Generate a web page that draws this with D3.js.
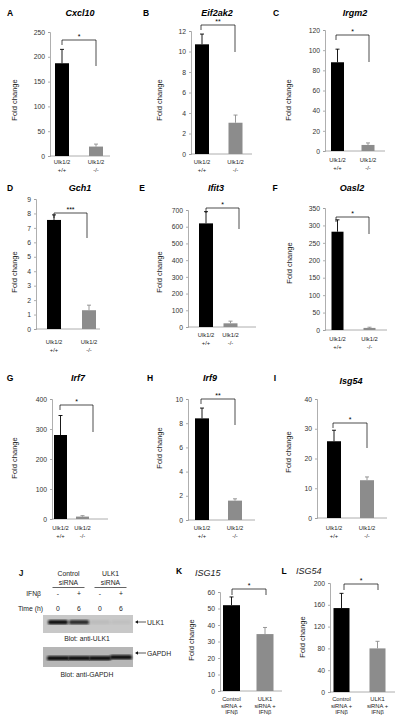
<!DOCTYPE html>
<html><head><meta charset="utf-8">
<script src="https://cdn.jsdelivr.net/npm/d3@7"></script>
<style>body{margin:0;background:#fff}svg{display:block;font-family:"Liberation Sans",Arial,sans-serif}</style>
</head><body><svg id="c" width="400" height="723"></svg>
<script>
// ---- data ----
const panelLetters = ["A","B","C","D","E","F","G","H","I","K","L"];
const genes = ["Cxcl10","Eif2ak2","Irgm2","Gch1","Ifit3","Oasl2","Irf7","Irf9","Isg54","ISG15","ISG54"];
const yMax  = [250, 12, 120, 9, 700, 350, 400, 10, 40, 60, 200];
const yStep = [50, 2, 20, 1, 100, 50, 100, 2, 10, 10, 40];
const ctrlMean = [187, 10.7, 88, 7.55, 620, 282, 280, 8.4, 25.8, 52, 154];
const ctrlErr  = [28, 1.0, 13, 0.35, 70, 34, 65, 0.85, 3.7, 5, 27];
const koMean = [19, 3.05, 6, 1.3, 22, 6, 8, 1.6, 12.7, 34.5, 80];
const koErr  = [5, 0.75, 2, 0.35, 13, 2, 3, 0.15, 1.1, 4, 13];
const sigLabels = ["*","**","*","***","*","*","*","**","*","*","*"];
const mouseCats = [["Ulk1/2","+/+"],["Ulk1/2","-/-"]];
const sirnaCats = [["Control","siRNA +","IFNβ"],["ULK1","siRNA +","IFNβ"]];
// western blot (panel J)
const blotGroups = ["Control\nsiRNA","ULK1\nsiRNA"];
const ifnRow = ["-","+","-","+"];
const timeRow = ["0","6","0","6"];
const ulk1Band = [1.0, 0.85, 0.06, 0.04];
const gapdhBand = [1.0, 1.0, 1.0, 1.0];

// ---- layout (pixel positions) ----
const L = [
 {ax:50, xe:110, y0:156, yt:32, c1:62, c2:96, bw:14, by:40, bl:[62,96], lr:66, ll:45, let:[10,16], tt:[80,16], yl:[17,100], xl:164, sz:"m"},
 {ax:191, xe:252, y0:154, yt:31, c1:202, c2:235.5, bw:14, by:25, bl:[201,235], lr:52, ll:30, let:[146,16], tt:[217,16], yl:[162,100], xl:164, sz:"m"},
 {ax:325, xe:385, y0:151, yt:30, c1:337.5, c2:368, bw:13, by:35, bl:[336,369], lr:62, ll:40, let:[276,16], tt:[355,16], yl:[291,100], xl:162, sz:"m"},
 {ax:36, xe:100, y0:329, yt:199, c1:54, c2:89, bw:14, by:213, bl:[54,87], lr:238, ll:218, let:[10,191], tt:[80,191], yl:[17,272], xl:344, sz:"m"},
 {ax:188, xe:256, y0:327, yt:210, c1:206, c2:230.5, bw:14, by:208, bl:[206,239], lr:229, ll:213, let:[142,191], tt:[216,191], yl:[162,272], xl:337, sz:"m"},
 {ax:325, xe:387, y0:330, yt:208, c1:337.5, c2:369.5, bw:12, by:217, bl:[336,369], lr:234, ll:222, let:[275,191], tt:[352,191], yl:[292,263], xl:341, sz:"m"},
 {ax:52, xe:108, y0:519, yt:399, c1:60.5, c2:82.5, bw:13, by:405, bl:[60,93], lr:432, ll:410, let:[10,381], tt:[78,381], yl:[17,458], xl:530, sz:"m"},
 {ax:188, xe:255, y0:520, yt:399, c1:202, c2:235, bw:14, by:399, bl:[201,235], lr:425, ll:404, let:[150,381], tt:[210,381], yl:[162,448], xl:530, sz:"m"},
 {ax:317, xe:387, y0:518, yt:399, c1:334, c2:367, bw:14, by:423, bl:[333,367], lr:448, ll:428, let:[275,381], tt:[351,384], yl:[291,452], xl:530, sz:"m"},
 {ax:220, xe:282, y0:691, yt:592, c1:231.5, c2:265, bw:17, by:589, bl:[232,266], lr:595, ll:595, let:[179,574], tt:[195,576], yl:[194,640], xl:701, sz:"s"},
 {ax:330, xe:395, y0:692, yt:583, c1:341.5, c2:377.5, bw:16, by:584, bl:[344,378], lr:590, ll:590, let:[284,574], tt:[296,574], yl:[305,637], xl:701, sz:"s"}
];

const svg = d3.select("#c");
const BLACK = "#000", GRAY = "#8c8c8c", TICK = "#333", AXIS = "#9a9a9a";

panelLetters.forEach((letter, i) => {
  const p = L[i];
  const g = svg.append("g");
  const cats = p.sz === "m" ? mouseCats : sirnaCats;
  const catKeys = cats.map(c => c.join(" "));
  const y = d3.scaleLinear().domain([0, yMax[i]]).range([p.y0, p.yt]);
  const x = d3.scalePoint().domain(catKeys).range([p.c1, p.c2]);

  // y axis
  const ticks = d3.range(0, yMax[i] + yStep[i] / 2, yStep[i]);
  const yAxis = d3.axisLeft(y).tickValues(ticks).tickSize(2).tickPadding(3).tickFormat(d3.format("d"));
  const ga = g.append("g").attr("transform", `translate(${p.ax},0)`).call(yAxis);
  ga.select(".domain").attr("stroke", AXIS).attr("stroke-width", 0.8);
  ga.selectAll(".tick line").attr("stroke", AXIS).attr("stroke-width", 0.8);
  ga.selectAll(".tick text").attr("fill", TICK).attr("font-size", 6.8).attr("font-family", '"Liberation Sans",Arial,sans-serif');
  // x axis line
  g.append("line").attr("x1", p.ax).attr("x2", p.xe).attr("y1", p.y0).attr("y2", p.y0).attr("stroke", AXIS).attr("stroke-width", 0.8);

  const means = [ctrlMean[i], koMean[i]], errs = [ctrlErr[i], koErr[i]], cols = [BLACK, GRAY];
  catKeys.forEach((k, j) => {
    const cx = x(k);
    // error bar (upper only)
    const et = y(means[j] + errs[j]);
    g.append("line").attr("x1", cx).attr("x2", cx).attr("y1", y(means[j])).attr("y2", et).attr("stroke", cols[j]).attr("stroke-width", 0.9);
    g.append("line").attr("x1", cx - 2).attr("x2", cx + 2).attr("y1", et).attr("y2", et).attr("stroke", cols[j]).attr("stroke-width", 0.9);
    g.append("rect").attr("x", cx - p.bw / 2).attr("width", p.bw).attr("y", y(means[j])).attr("height", p.y0 - y(means[j])).attr("fill", cols[j]);
    // category labels
    const t = g.append("text").attr("text-anchor", "middle").attr("font-size", 5.8).attr("fill", "#222");
    cats[j].forEach((ln, m) => t.append("tspan").attr("x", cx).attr("y", p.xl + m * (p.sz === "m" ? 7.5 : 6.6)).text(ln));
  });

  // significance bracket
  g.append("path").attr("d", `M${p.bl[0]},${p.ll}V${p.by}H${p.bl[1]}V${p.lr}`).attr("fill", "none").attr("stroke", "#000").attr("stroke-width", 0.7);
  g.append("text").attr("x", (p.bl[0] + p.bl[1]) / 2).attr("y", p.by - 1.5).attr("text-anchor", "middle").attr("font-size", 7).attr("fill", "#000").text(sigLabels[i]);

  // panel letter & title
  g.append("text").attr("x", p.let[0]).attr("y", p.let[1]).attr("font-size", 8.5).attr("font-weight", "bold").attr("text-anchor", "middle").text(letter);
  if (p.sz === "m") {
    g.append("text").attr("x", p.tt[0]).attr("y", p.tt[1]).attr("font-size", 9).attr("font-weight", "bold").attr("font-style", "italic").attr("text-anchor", "middle").text(genes[i]);
  } else {
    g.append("text").attr("x", p.tt[0]).attr("y", p.tt[1]).attr("font-size", 9).attr("font-style", "italic").attr("fill", "#222").text(genes[i]);
  }
  // y label
  g.append("text").attr("transform", `translate(${p.yl[0]},${p.yl[1]}) rotate(-90)`).attr("text-anchor", "middle").attr("font-size", 7.5).attr("fill", "#222").text("Fold change");
});

// ---- panel J: western blot ----
const J = svg.append("g").attr("font-size", 6.8).attr("fill", "#222");
const lane = d3.scalePoint().domain(d3.range(4)).range([58, 121]);
J.append("text").attr("x", 21).attr("y", 576).attr("font-size", 8.5).attr("font-weight", "bold").attr("text-anchor", "middle").text("J");
blotGroups.forEach((gname, k) => {
  const cx = (lane(2 * k) + lane(2 * k + 1)) / 2;
  const t = J.append("text").attr("text-anchor", "middle");
  gname.split("\n").forEach((ln, m) => t.append("tspan").attr("x", cx).attr("y", 576 + m * 8.5).text(ln));
  J.append("line").attr("x1", cx - 16).attr("x2", cx + 16).attr("y1", 587.5).attr("y2", 587.5).attr("stroke", "#222").attr("stroke-width", 0.7);
});
J.append("text").attr("x", 41).attr("y", 596).attr("text-anchor", "end").text("IFNβ");
J.append("text").attr("x", 43).attr("y", 611).attr("text-anchor", "end").text("Time (h)");
ifnRow.forEach((s, k) => J.append("text").attr("x", lane(k)).attr("y", 596).attr("text-anchor", "middle").text(s));
timeRow.forEach((s, k) => J.append("text").attr("x", lane(k)).attr("y", 611).attr("text-anchor", "middle").text(s));

const defs = svg.append("defs");
defs.append("filter").attr("id", "blur").append("feGaussianBlur").attr("stdDeviation", 0.8);

// ULK1 blot
J.append("rect").attr("x", 43).attr("y", 615).attr("width", 90).attr("height", 18).attr("fill", "#c8c8c8");
ulk1Band.forEach((v, k) => {
  J.append("rect").attr("x", lane(k) - 10).attr("y", 620).attr("width", 20).attr("height", 4.5).attr("rx", 1.5)
    .attr("fill", "#111").attr("opacity", v).attr("filter", "url(#blur)");
});
J.append("text").attr("x", 87).attr("y", 641).attr("text-anchor", "middle").text("Blot: anti-ULK1");
// GAPDH blot
J.append("rect").attr("x", 43).attr("y", 647).attr("width", 90).attr("height", 20).attr("fill", "#b6b6b6");
gapdhBand.forEach((v, k) => {
  J.append("rect").attr("x", lane(k) - 11).attr("y", k === 3 ? 655 : 656).attr("width", 22).attr("height", 4.5).attr("rx", 1.5)
    .attr("fill", "#111").attr("opacity", v).attr("filter", "url(#blur)");
});
J.append("text").attr("x", 87).attr("y", 677).attr("text-anchor", "middle").text("Blot: anti-GAPDH");
// arrows
[[622, "ULK1"], [653, "GAPDH"]].forEach(([yy, lab]) => {
  J.append("path").attr("d", `M135,${yy}l3,-1.8v3.6z`).attr("fill", "#111");
  J.append("line").attr("x1", 137).attr("x2", 146).attr("y1", yy).attr("y2", yy).attr("stroke", "#111").attr("stroke-width", 0.7);
  J.append("text").attr("x", 147).attr("y", yy + 2.5).text(lab);
});
</script></body></html>
